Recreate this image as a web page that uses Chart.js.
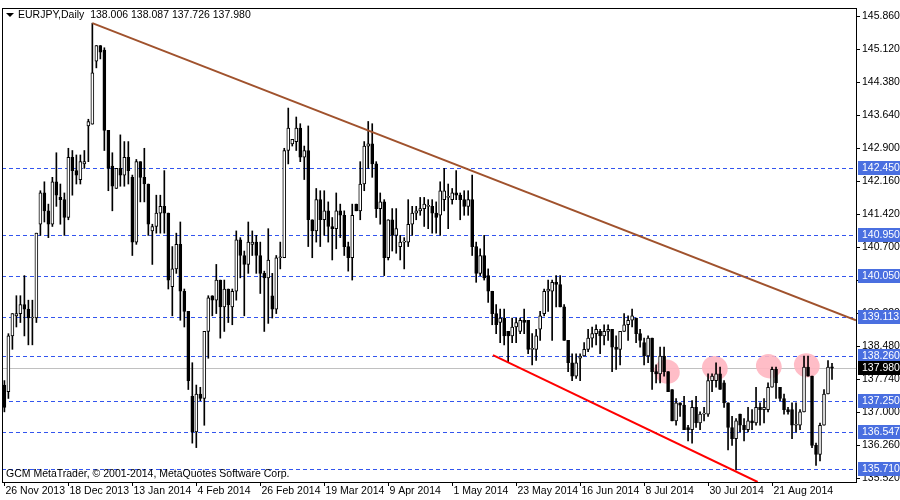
<!DOCTYPE html>
<html><head><meta charset="utf-8">
<script src="https://cdn.jsdelivr.net/npm/chart.js@4/dist/chart.umd.min.js"></script>
<style>html,body{margin:0;padding:0;background:#fff}#wrap{width:900px;height:500px}</style>
</head><body><div id="wrap"><canvas id="c" width="900" height="500"></canvas></div>
<script>
const opens=[137.6,137.45,138.7,139.15,139.2,139.4,139.3,139.1,139.1,141.2,141.9,141.5,141.2,142.15,141.8,141.75,141.35,142.7,142.4,142.2,142.55,143.4,143.44,144.85,145.2,145.1,143.3,142.5,142.0,142.45,142.3,142.7,142.25,140.8,142.6,142.25,142.1,141.05,141.15,141.45,141.6,141.45,139.8,140.2,140.75,139.7,139.25,137.35,136.55,137.4,137.3,138.8,139.6,
139.5,139.95,139.35,139.75,139.35,139.7,140.85,140.5,140.3,140.75,140.8,140.5,140.1,140.0,139.6,139.3,140.45,140.45,142.85,143.0,143.05,143.35,142.7,142.85,141.3,141.05,141.75,141.3,141.5,141.15,141.1,141.5,141.4,140.7,140.45,141.65,141.5,142.1,142.95,143.0,142.55,141.55,141.7,140.45,141.3,140.95,140.7,140.8,140.8,141.2,141.45,141.5,141.55,
141.6,141.6,141.45,141.4,141.75,141.8,141.75,141.9,141.85,141.75,141.6,141.75,140.7,140.1,140.5,140.05,139.7,139.2,139.0,139.1,138.8,138.7,138.9,138.8,139.05,139.05,138.4,138.4,138.85,139.2,139.7,139.7,139.9,139.85,139.35,138.6,138.1,137.8,138.2,138.25,138.4,138.65,138.75,138.8,138.7,138.8,138.85,138.45,138.4,138.8,138.95,139.05,
139.1,138.75,138.55,138.25,138.65,137.9,137.85,138.25,137.9,137.5,136.8,137.2,137.15,136.65,136.6,137.1,136.75,136.95,136.95,137.7,137.7,137.85,137.65,137.2,136.65,136.4,136.95,136.7,136.6,136.8,136.75,137.1,137.05,137.05,137.55,137.95,137.55,137.3,137.05,137.05,136.7,136.7,137.0,138.0,137.8,136.25,136.05,136.7,137.4,138.006];
const highs=[137.7,138.75,139.2,139.6,139.6,140.05,139.5,139.5,141.0,141.95,142.15,141.65,142.25,142.8,142.1,141.9,142.9,142.85,142.75,142.75,142.85,143.55,145.7,145.2,145.2,145.15,143.3,142.8,142.45,143.2,143.05,143.05,142.3,142.65,142.6,142.9,142.1,141.2,141.85,141.85,142.4,141.45,140.7,141.0,141.25,139.75,139.25,138.1,137.6,137.55,138.8,139.6,139.6,
140.3,139.95,139.95,139.75,139.75,141.05,140.9,140.6,141.25,141.05,140.95,140.8,140.15,141.1,140.1,140.5,140.8,142.9,143.8,143.1,143.6,143.45,142.95,143.4,141.3,142.0,141.95,141.95,141.7,141.35,141.9,141.65,141.5,140.8,141.65,141.65,142.6,143.05,143.5,143.45,142.6,141.9,141.75,141.3,141.55,141.55,140.95,140.9,141.75,141.6,141.6,141.8,141.8,
141.75,141.75,141.7,142.15,142.45,142.1,142.0,142.4,141.9,141.95,141.95,142.3,140.8,140.65,140.95,140.2,139.7,139.4,139.3,139.3,138.8,139.1,139.1,139.1,139.3,139.05,138.75,138.85,139.25,139.75,139.95,139.95,140.05,140.05,139.4,138.6,138.3,138.3,138.3,138.55,138.85,138.9,138.95,138.85,138.95,138.95,138.85,138.7,138.8,139.2,139.15,139.3,
139.1,138.85,138.65,138.7,138.65,138.05,138.45,138.45,137.9,137.5,137.3,137.2,137.35,136.7,137.25,137.35,137.0,137.1,137.85,137.85,138.1,138.0,137.7,137.2,136.9,136.85,136.95,136.85,137.1,137.05,137.55,137.2,137.3,137.65,138.0,138.0,137.55,137.4,137.1,137.2,137.2,137.05,138.25,138.25,137.8,136.3,136.75,137.5,138.15,138.087];
const lows=[137.0,137.3,138.4,138.9,139.0,138.7,138.5,138.5,139.0,140.95,141.25,140.9,141.15,141.6,141.2,140.95,141.3,141.85,142.1,142.1,142.45,142.6,143.44,144.7,144.9,142.85,141.95,141.5,142.0,142.05,142.05,142.1,140.5,140.75,141.7,141.7,140.95,140.3,141.0,141.0,141.0,139.75,139.15,140.1,139.05,138.9,137.5,136.3,136.2,137.25,136.7,138.2,139.15,
139.2,138.65,138.8,139.0,138.95,139.5,140.0,139.15,140.1,140.5,140.1,139.65,138.8,138.98,139.1,139.2,140.2,140.45,142.55,142.95,142.85,142.6,142.2,140.7,140.45,140.8,140.7,140.95,140.8,140.4,140.65,140.9,140.5,140.15,139.95,141.5,141.3,141.95,142.45,142.25,141.35,141.2,140.05,140.4,140.6,140.55,140.4,140.2,140.7,140.95,141.3,141.4,141.15,
141.1,141.0,141.0,140.95,141.5,141.1,141.65,141.75,141.3,141.4,141.4,140.5,139.9,140.05,139.95,139.45,138.95,138.75,138.55,138.5,138.1,138.55,138.55,138.75,138.75,138.3,138.05,138.15,138.6,139.15,139.25,138.6,139.35,139.35,138.6,137.9,137.7,137.75,137.7,138.25,138.35,138.45,138.5,138.3,138.5,138.6,137.9,137.95,138.05,138.8,138.6,138.9,
138.55,138.45,138.05,138.1,137.5,137.65,137.65,137.8,137.45,136.8,136.7,136.9,136.6,136.35,136.3,136.65,136.6,136.8,136.9,137.45,137.55,137.5,137.1,136.15,136.25,135.7,136.55,136.35,136.55,136.6,136.7,136.7,136.75,137.0,137.55,137.3,137.25,136.95,136.95,136.4,136.55,136.6,137.0,137.8,136.2,135.8,135.9,136.7,137.4,137.726];
const closes=[137.1,138.7,139.2,139.2,139.4,139.3,139.1,139.1,141.0,141.9,141.5,141.2,142.15,141.85,141.75,141.35,142.7,142.4,142.3,142.6,142.6,143.5,144.59,145.2,145.05,143.3,142.45,142.05,142.45,142.3,142.7,142.4,140.8,142.6,142.25,142.1,141.2,141.15,141.45,141.6,141.45,139.95,140.2,140.75,139.7,139.25,137.7,136.55,137.4,137.3,138.8,139.55,139.5,
139.95,139.35,139.75,139.4,139.7,140.85,140.5,140.3,140.8,140.8,140.5,140.1,140.0,140.4,139.3,140.45,140.45,142.85,143.35,143.1,143.35,142.7,142.85,141.3,141.05,141.75,141.3,141.5,141.15,141.1,141.5,141.4,140.7,140.45,141.4,141.5,142.1,142.95,143.0,142.55,141.55,141.7,140.45,141.3,140.95,141.1,140.8,140.8,141.2,141.45,141.5,141.55,141.65,
141.6,141.45,141.35,141.95,141.95,141.8,141.9,141.85,141.75,141.6,141.75,140.7,140.1,140.5,140.0,139.7,139.2,138.95,139.1,138.7,138.7,138.9,139.0,139.05,139.0,138.4,138.4,138.7,139.15,139.7,139.75,139.9,139.85,139.35,138.6,138.1,137.8,138.1,138.25,138.4,138.65,138.75,138.85,138.7,138.8,138.85,138.45,138.4,138.8,138.95,139.05,139.15,
138.75,138.6,138.25,138.65,137.9,137.85,138.25,137.9,137.45,136.8,137.2,137.15,136.6,136.6,137.1,136.75,136.95,136.95,137.7,137.8,137.85,137.5,137.2,136.65,136.4,136.8,136.7,136.6,136.8,136.75,137.1,137.05,137.1,137.55,137.95,137.65,137.3,137.05,137.0,136.7,136.7,137.0,138.0,137.8,136.25,136.05,136.7,137.4,138.0,137.98];

const dateTickIdx=[0,16,32,48,64,80,96,112,128,144,160,176,192];
const dateTickLabels=["26 Nov 2013","18 Dec 2013","13 Jan 2014","4 Feb 2014","26 Feb 2014","19 Mar 2014","9 Apr 2014","1 May 2014","23 May 2014","16 Jun 2014","8 Jul 2014","30 Jul 2014","21 Aug 2014"];
const priceTicks=[145.860,145.120,144.380,143.640,142.900,142.160,141.420,140.700,139.960,139.220,138.480,137.740,137.000,136.260,135.520];
const levelLines=[142.450,140.950,140.050,139.113,138.260,137.250,136.547,135.710];
const lastPrice=137.980;
const resistX=[22,213],resistY=[145.7,139.05];
const supportX=[122.2,188.4],supportY=[138.27,135.43];
const markIdx=[165.7,177.7,191.2,200.7];
const markPrice=[137.90,137.98,138.02,138.04];
const title="EURJPY,Daily  138.006 138.087 137.726 137.980";
const footer="GCM MetaTrader, © 2001-2014, MetaQuotes Software Corp.";

const idx=closes.map((_,i)=>i);
const wicks=idx.map(i=>({x:i,y:[lows[i],highs[i]]}));
const bodies=idx.map(i=>({x:i,y:[opens[i],closes[i]]}));
const bodyFill=idx.map(i=>closes[i]>=opens[i]?'#ffffff':'#000000');

const FONT='10.5px "Liberation Sans", Arial, sans-serif';
const overlay={
 id:'overlay',
 beforeDatasetsDraw(ch){
  const c=ch.ctx,x=ch.scales.x,y=ch.scales.y,a=ch.chartArea;
  c.save();
  c.strokeStyle='#c0c0c0';c.lineWidth=1;
  let py=Math.round(y.getPixelForValue(lastPrice))+0.5;
  c.beginPath();c.moveTo(a.left,py);c.lineTo(a.right,py);c.stroke();
  c.strokeStyle='#3355ee';c.setLineDash([4,3]);
  levelLines.forEach(v=>{const p=Math.round(y.getPixelForValue(v))+0.5;c.beginPath();c.moveTo(a.left,p);c.lineTo(a.right,p);c.stroke();});
  c.setLineDash([]);
  c.fillStyle='rgba(255,182,193,0.9)';
  markIdx.forEach((m,i)=>{c.beginPath();c.ellipse(x.getPixelForValue(m),y.getPixelForValue(markPrice[i]),13,12,0.4,0,Math.PI*2);c.fill();});
  c.restore();
 },
 afterDraw(ch){
  const c=ch.ctx,x=ch.scales.x,y=ch.scales.y,a=ch.chartArea;
  c.save();
  c.strokeStyle='#000';c.lineWidth=1;
  c.strokeRect(a.left+0.5,a.top+0.5,a.right-a.left,a.bottom-a.top);
  c.font=FONT;c.fillStyle='#000';c.textBaseline='middle';
  priceTicks.forEach(v=>{const p=Math.round(y.getPixelForValue(v))+0.5;c.beginPath();c.moveTo(a.right,p);c.lineTo(a.right+4,p);c.stroke();c.fillText(v.toFixed(3),a.right+6,p);});
  const box=(v,bg)=>{const p=Math.round(y.getPixelForValue(v));c.fillStyle=bg;c.fillRect(a.right+2,p-7,42,14);c.fillStyle='#fff';c.fillText(v.toFixed(3),a.right+6,p+0.5);};
  levelLines.forEach(v=>box(v,'#4a6fe0'));
  box(lastPrice,'#000');
  c.fillStyle='#000';c.textBaseline='top';
  dateTickIdx.forEach((d,i)=>{const p=Math.round(x.getPixelForValue(d))+0.5;c.beginPath();c.moveTo(p,a.bottom);c.lineTo(p,a.bottom+4);c.stroke();c.fillText(dateTickLabels[i],p+1,a.bottom+4);});
  c.textBaseline='middle';
  c.beginPath();c.moveTo(6,13);c.lineTo(14,13);c.lineTo(10,17);c.closePath();c.fill();
  c.fillText(title,18,15);
  c.fillText(footer,6,474);
  c.restore();
 }
};

new Chart(document.getElementById('c'),{
 type:'bar',
 data:{datasets:[
  {data:wicks,backgroundColor:'#000',barThickness:1,grouped:false,order:3},
  {data:bodies,backgroundColor:bodyFill,borderColor:'#000',borderWidth:1,borderSkipped:false,barThickness:3,minBarLength:1,grouped:false,order:2},
  {type:'line',data:resistX.map((v,i)=>({x:v,y:resistY[i]})),borderColor:'#a0522d',borderWidth:2,pointRadius:0,order:1},
  {type:'line',data:supportX.map((v,i)=>({x:v,y:supportY[i]})),borderColor:'#ff0000',borderWidth:2,pointRadius:0,order:1}
 ]},
 options:{
  responsive:false,animation:false,events:[],
  layout:{padding:{left:2,top:8,right:0,bottom:0}},
  plugins:{legend:{display:false},tooltip:{enabled:false}},
  scales:{
   x:{type:'linear',min:-0.6,max:213,offset:false,grid:{display:false},border:{display:false},ticks:{display:false},afterFit(s){s.height=18;}},
   y:{position:'right',min:135.43,max:146.04,grid:{display:false},border:{display:false},ticks:{display:false},afterFit(s){s.width=44;}}
  }
 },
 plugins:[overlay]
});
</script></body></html>
